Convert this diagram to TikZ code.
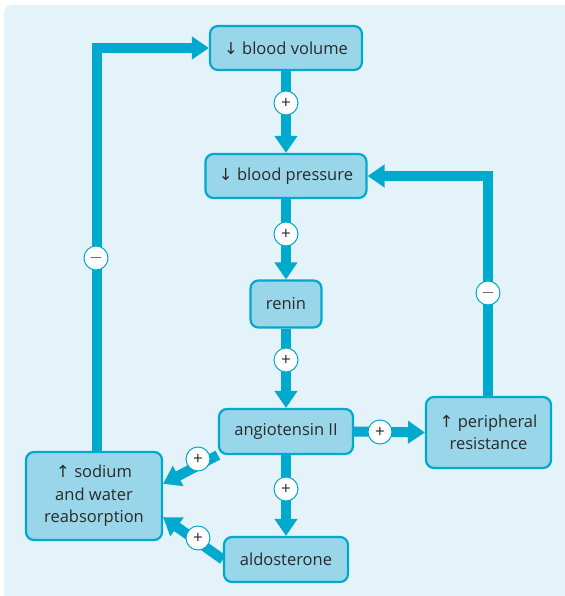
\documentclass[tikz,border=0pt]{standalone}
\usepackage{fontspec}
\setmainfont{Open Sans}
\newfontfamily\symf{DejaVu Sans}
\usetikzlibrary{arrows.meta}
\definecolor{bg}{HTML}{E3F3F9}
\definecolor{boxfill}{HTML}{9AD6E9}
\definecolor{cyanline}{HTML}{00A9CE}
\definecolor{txt}{HTML}{2A2A2A}
\newcommand{\dn}{{\symf ↓}}
\newcommand{\upa}{{\symf ↑}}
\pgfdeclarelayer{back}
\pgfdeclarelayer{mid}
\pgfsetlayers{back,mid,main}
\begin{document}
\begin{tikzpicture}[x=1pt,y=-1pt,
  box/.style={draw=cyanline, line width=2.2pt, fill=boxfill, rounded corners=8pt,
    text=txt, font=\fontsize{16.5}{22.5}\selectfont, align=center, inner sep=0pt},
  flow/.style={draw=cyanline, line width=10pt, -{Triangle[length=17pt,width=22pt]}},
  sgn/.style={circle, draw=cyanline, line width=1pt, fill=white, minimum size=24pt,
    inner sep=0pt, font=\fontsize{17}{17}\selectfont, text=txt}]
\useasboundingbox (0,0) rectangle (564,596);
\begin{pgfonlayer}{back}
\fill[bg, rounded corners=8pt] (4,5) rectangle (580,612);
\end{pgfonlayer}
% boxes
\node[box, minimum width=152pt, minimum height=44pt] (bv) at (286,48) {\dn\ blood volume};
\node[box, minimum width=161pt, minimum height=44pt] (bp) at (286,176) {\dn\ blood pressure};
\node[box, minimum width=71pt, minimum height=47pt] (ren) at (286,304) {renin};
\node[box, minimum width=134pt, minimum height=45pt] (ang) at (286,431.5) {angiotensin II};
\node[box, minimum width=125pt, minimum height=71pt] (per) at (488.5,432.5) {\upa\ peripheral\\resistance};
\node[box, minimum width=136pt, minimum height=88pt] (sod) at (94,496) {\upa\ sodium\\and water\\reabsorption};
\node[box, minimum width=124pt, minimum height=45pt] (ald) at (286,559.5) {aldosterone};
% connectors
\coordinate (cA) at (97,48);
\coordinate (cB) at (488,176);
\begin{pgfonlayer}{mid}
\draw[flow] (bv.south) -- (bp.north);
\draw[flow] (bp.south) -- (ren.north);
\draw[flow] (ren.south) -- (ang.north);
\draw[flow] (ang.south) -- (ald.north);
\draw[flow] (ang.east) -- (per.west);
\draw[flow] (per.north -| cB) -- (cB) -- (bp.east);
\draw[flow] (sod.north -| cA) -- (cA) -- (bv.west);
\draw[flow] (ang.south west) -- (sod.10);
\draw[flow] (ald.west) -- (sod.-17);
\end{pgfonlayer}
% signs
\node[sgn] (s1) at (286,103) {+};
\node[sgn] (s2) at (286,234) {+};
\node[sgn] (s3) at (286,360) {+};
\node[sgn] (s4) at (286,489) {+};
\node[sgn] (s5) at (380,432) {+};
\node[sgn] (s6) at (488,293) {$-$};
\node[sgn] (s7) at (96,258) {$-$};
\node[sgn] (s8) at (198,459) {+};
\node[sgn] (s9) at (198,538) {+};
\end{tikzpicture}
\end{document}
